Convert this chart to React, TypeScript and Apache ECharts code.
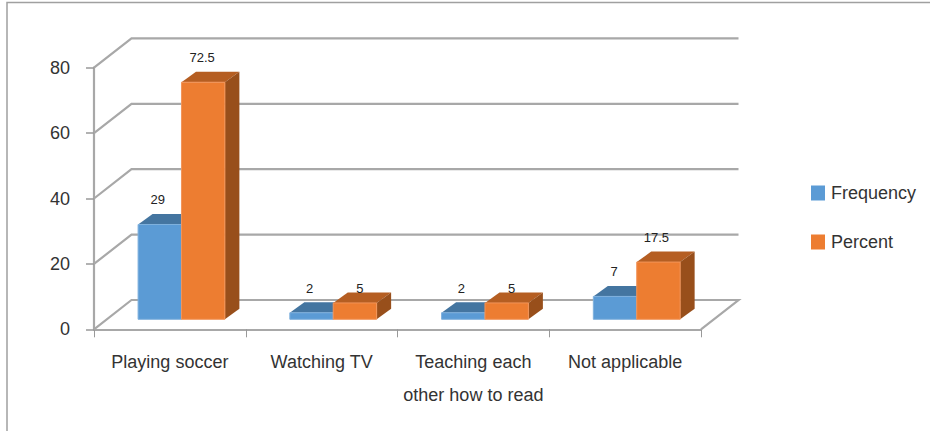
import React, { useEffect, useRef } from "react";
import * as echarts from "echarts";

const categories = ["Playing soccer", "Watching TV", "Teaching each\nother how to read", "Not applicable"];
const frequency = [29, 2, 2, 7];
const percent = [72.5, 5, 5, 17.5];
const yTicks = [0, 20, 40, 60, 80];

const FONT = "'Liberation Sans', Arial, sans-serif";
const GRID_COLOR = "#a8a8a8";
const TEXT = "#333333";
const WALL_DX = 37.5;
const WALL_DY = -29.3;
const FLOOR_DY = -10;
const DEPTH_DX = 14.5;
const DEPTH_DY = -10.5;
const BAR_FRACTION = 0.286;
const CENTER_SHIFT = 0.0765;
const labelNudgeX = [[-2, -2, -2, -1], [-1, 5, 5, -2]];
const labelNudgeY = [[0, 0, 0, 0], [0, 10, 10, 0]];

function wallItem(params: any, api: any) {
  const v = api.value(0);
  const cs = params.coordSys;
  const y = api.coord([0, v])[1];
  const left = cs.x;
  const right = cs.x + cs.width;
  const points: number[][] = [
    [left, y],
    [left + WALL_DX, y + WALL_DY],
    [right + WALL_DX, y + WALL_DY],
  ];
  if (v === 0) points.push([right, y]);
  return {
    type: "polyline",
    silent: true,
    shape: { points },
    style: { stroke: GRID_COLOR, lineWidth: 2.2, fill: "none" },
  };
}

function barRenderer(position: number, colors: { front: string; top: string; side: string; edge: string }) {
  return (_params: any, api: any) => {
    const idx = api.value(0);
    const val = api.value(1);
    const band = api.size([1, 0])[0];
    const w = band * BAR_FRACTION;
    const [cx, y0] = api.coord([idx, 0]);
    const yTop = api.coord([idx, val])[1] + FLOOR_DY;
    const yBase = y0 + FLOOR_DY;
    const xL = cx + band * CENTER_SHIFT + (position === 0 ? -w : 0);
    const xR = xL + w;
    return {
      type: "group",
      silent: true,
      children: [
        {
          type: "polygon",
          shape: { points: [[xL, yTop], [xL + DEPTH_DX, yTop + DEPTH_DY], [xR + DEPTH_DX, yTop + DEPTH_DY], [xR, yTop]] },
          style: { fill: colors.top },
        },
        {
          type: "polygon",
          shape: { points: [[xR, yTop], [xR + DEPTH_DX, yTop + DEPTH_DY], [xR + DEPTH_DX, yBase + DEPTH_DY], [xR, yBase]] },
          style: { fill: colors.side },
        },
        {
          type: "rect",
          shape: { x: xL, y: yTop, width: w, height: yBase - yTop },
          style: { fill: colors.front, stroke: colors.edge, lineWidth: 1 },
        },
        {
          type: "text",
          style: {
            text: String(val),
            x: (xL + xR) / 2 + labelNudgeX[position][idx],
            y: yTop - 25 + labelNudgeY[position][idx] + 0.5,
            align: "center",
            verticalAlign: "middle",
            fontSize: 13,
            fontFamily: FONT,
            fill: "#222222",
          },
        },
      ],
    };
  };
}

export default function App() {
  const ref = useRef<HTMLDivElement>(null);
  useEffect(() => {
    const chart = echarts.init(ref.current!, undefined, { renderer: "svg" });
    chart.setOption({
      animation: false,
      backgroundColor: "#ffffff",
      grid: { left: 94, right: 229, top: 67.7, bottom: 101.7, containLabel: false },
      xAxis: {
        type: "category",
        data: categories,
        axisLine: { show: true, lineStyle: { color: GRID_COLOR, width: 2.2 } },
        axisTick: { show: true, length: 8, lineStyle: { color: "#999999", width: 1 } },
        axisLabel: {
          interval: 0,
          margin: 16,
          fontSize: 18,
          lineHeight: 33,
          color: TEXT,
          fontFamily: FONT,
        },
      },
      yAxis: {
        type: "value",
        min: 0,
        max: 80,
        interval: 20,
        splitLine: { show: false },
        axisLine: { show: true, lineStyle: { color: GRID_COLOR, width: 2.2 } },
        axisTick: { show: true, length: 8, lineStyle: { color: "#999999", width: 1.5 } },
        axisLabel: { margin: 24, fontSize: 18, color: TEXT, fontFamily: FONT },
      },
      legend: {
        orient: "vertical",
        left: 806,
        top: 179,
        icon: "rect",
        itemWidth: 14,
        itemHeight: 15,
        itemGap: 31,
        data: ["Frequency", "Percent"],
        selectedMode: false,
        textStyle: { fontSize: 18, color: TEXT, fontFamily: FONT, padding: [0, 0, 0, 1] },
      },
      graphic: [
        {
          type: "polyline",
          silent: true,
          shape: { points: [[7, 431], [7, 2.5], [930, 2.5]] },
          style: { stroke: "#a0a0a0", lineWidth: 1.5, fill: "none" },
        },
      ],
      series: [
        {
          type: "custom",
          name: "wall",
          z: 1,
          clip: false,
          coordinateSystem: "cartesian2d",
          data: yTicks.map((v) => [v]),
          encode: { y: 0 },
          renderItem: wallItem,
          tooltip: { show: false },
        },
        {
          type: "custom",
          name: "Frequency",
          z: 3,
          clip: false,
          coordinateSystem: "cartesian2d",
          itemStyle: { color: "#5b9bd5" },
          data: frequency.map((v, i) => [i, v]),
          encode: { x: 0, y: 1 },
          renderItem: barRenderer(0, { front: "#5b9bd5", top: "#4475a0", side: "#3f6f9c", edge: "#7fb0dd" }),
        },
        {
          type: "custom",
          name: "Percent",
          z: 4,
          clip: false,
          coordinateSystem: "cartesian2d",
          itemStyle: { color: "#ed7d31" },
          data: percent.map((v, i) => [i, v]),
          encode: { x: 0, y: 1 },
          renderItem: barRenderer(1, { front: "#ed7d31", top: "#b55e22", side: "#984f1b", edge: "#f2955a" }),
        },
      ],
    });
    return () => chart.dispose();
  }, []);
  return <div ref={ref} style={{ position: "absolute", left: 0, top: 0, width: 930, height: 431 }} />;
}
